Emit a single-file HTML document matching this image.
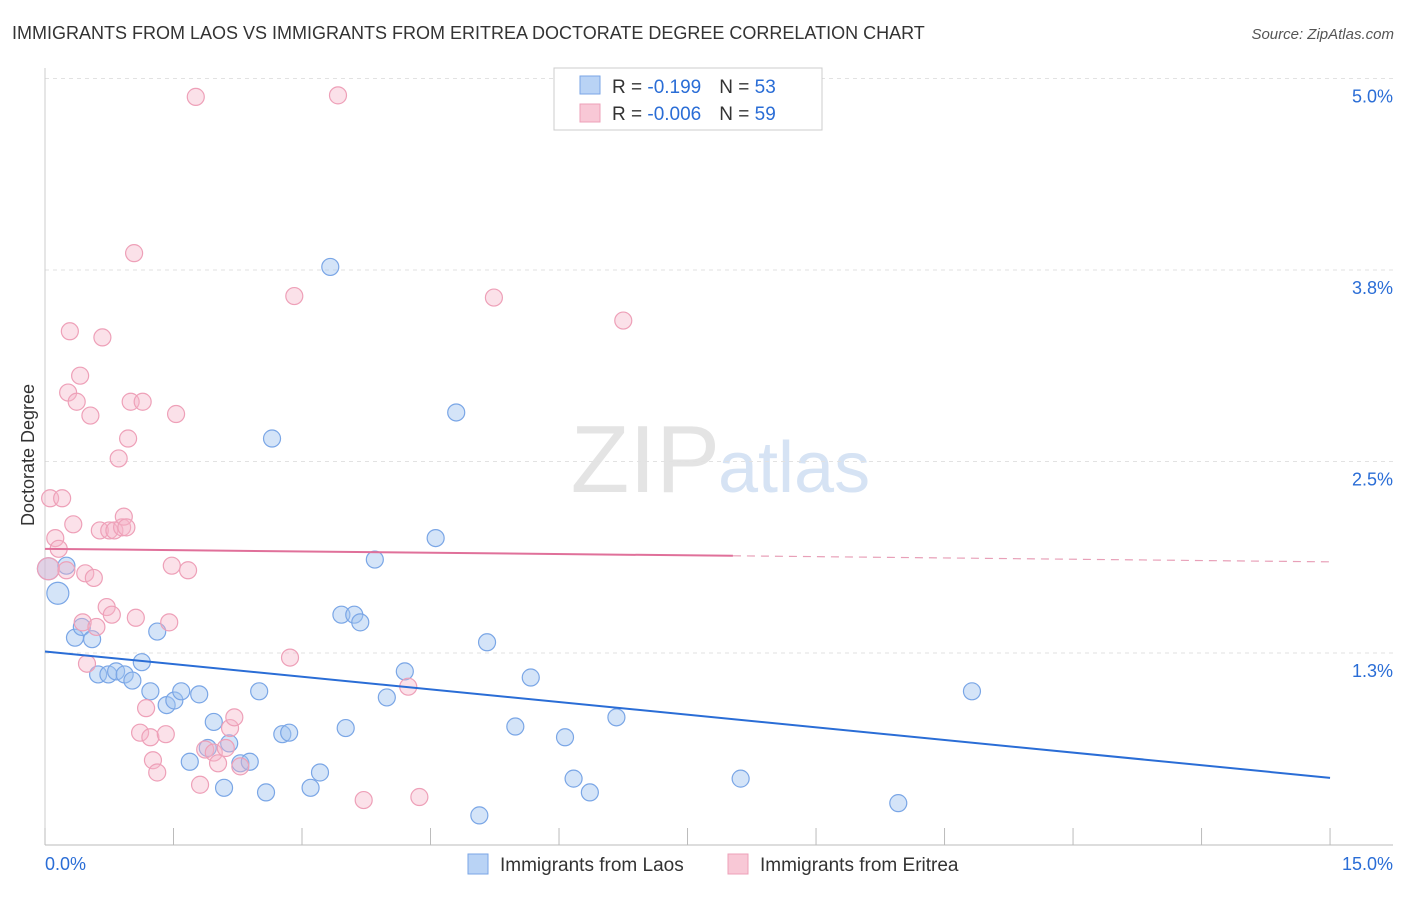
<!DOCTYPE html>
<html><head><meta charset="utf-8"><style>
body{margin:0;background:#fff;font-family:"Liberation Sans",sans-serif;}
svg text{font-family:"Liberation Sans",sans-serif;}
</style></head><body>
<svg id="chart" width="1406" height="892">
<text x="12" y="39" font-size="18" fill="#333">IMMIGRANTS FROM LAOS VS IMMIGRANTS FROM ERITREA DOCTORATE DEGREE CORRELATION CHART</text>
<text x="1394" y="39" font-size="15" fill="#555" font-style="italic" text-anchor="end">Source: ZipAtlas.com</text>
<text x="34" y="455" font-size="18" fill="#333" transform="rotate(-90 34 455)" text-anchor="middle">Doctorate Degree</text>
<text x="720" y="492" font-size="96" fill="#e4e4e4" font-family="Liberation Serif" text-anchor="end">ZIP</text>
<text x="718" y="492" font-size="72" fill="#d6e3f4">atlas</text>
<g id="grid"></g><g id="pts"></g><g id="lines"></g>
<g>
<rect x="554" y="68" width="268" height="62" fill="#fff" stroke="#ccc"/>
<rect x="580" y="76" width="20" height="18" fill="#b9d3f5" stroke="#7aa6e6"/>
<rect x="580" y="104" width="20" height="18" fill="#f8c8d6" stroke="#eea0b8"/>
<text x="612" y="93" font-size="19" fill="#333">R = <tspan fill="#2a6dd6"> -0.199</tspan><tspan dx="18">N = </tspan><tspan fill="#2a6dd6">53</tspan></text>
<text x="612" y="120" font-size="19" fill="#333">R = <tspan fill="#2a6dd6">-0.006</tspan><tspan dx="18">N = </tspan><tspan fill="#2a6dd6">59</tspan></text>
</g>
<g>
<rect x="468" y="854" width="20" height="20" fill="#b9d3f5" stroke="#7aa6e6"/>
<text x="500" y="871" font-size="19" fill="#333">Immigrants from Laos</text>
<rect x="728" y="854" width="20" height="20" fill="#f8c8d6" stroke="#eea0b8"/>
<text x="760" y="871" font-size="19" fill="#333">Immigrants from Eritrea</text>
</g>
</svg>
<script>
const yTicks=[5.0,3.75,2.5,1.25];
const yTickLabels=["5.0%","3.8%","2.5%","1.3%"];
const xTicks=[0,1.5,3,4.5,6,7.5,9,10.5,12,13.5,15];
const laosX=[0.04,0.15,0.25,0.35,0.43,0.55,0.62,0.74,0.83,0.93,1.02,1.13,1.23,1.31,1.42,1.51,1.59,1.80,1.97,1.69,1.90,2.09,2.15,2.28,2.39,2.50,2.58,2.65,2.77,2.85,3.10,3.21,3.33,3.46,3.51,3.61,3.68,3.85,3.99,4.20,4.56,4.80,5.07,5.16,5.49,5.67,6.07,6.17,6.36,6.67,8.12,9.96,10.82];
const laosY=[1.80,1.64,1.82,1.35,1.42,1.34,1.11,1.11,1.13,1.11,1.07,1.19,1.00,1.39,0.91,0.94,1.00,0.98,0.80,0.54,0.63,0.37,0.66,0.53,0.54,1.00,0.34,2.65,0.72,0.73,0.37,0.47,3.77,1.50,0.76,1.50,1.45,1.86,0.96,1.13,2.00,2.82,0.19,1.32,0.77,1.09,0.70,0.43,0.34,0.83,0.43,0.27,1.00];
const eriX=[0.04,0.06,0.12,0.16,0.20,0.25,0.29,0.33,0.27,0.37,0.41,0.44,0.49,0.53,0.47,0.57,0.60,0.64,0.67,0.72,0.75,0.78,0.81,0.86,0.90,0.92,0.95,0.97,1.00,1.04,1.06,1.11,1.14,1.18,1.23,1.26,1.31,1.41,1.45,1.48,1.53,1.67,1.76,1.81,1.87,1.97,2.02,2.11,2.16,2.21,2.28,2.86,2.91,3.42,3.72,4.24,4.37,5.24,6.75];
const eriY=[1.80,2.26,2.00,1.93,2.26,1.79,3.35,2.09,2.95,2.89,3.06,1.45,1.18,2.80,1.77,1.74,1.42,2.05,3.31,1.55,2.05,1.50,2.05,2.52,2.07,2.14,2.07,2.65,2.89,3.86,1.48,0.73,2.89,0.89,0.70,0.55,0.47,0.72,1.45,1.82,2.81,1.79,4.88,0.39,0.62,0.60,0.53,0.63,0.76,0.83,0.51,1.22,3.58,4.89,0.29,1.03,0.31,3.57,3.42];
const laosTrend=[1.26,0.435];
const eriTrend=[1.93,1.845];
const NS="http://www.w3.org/2000/svg";
const X=v=>45+v*85.67, Y=v=>844.5-v*153.2;
function mk(t,a,p){const e=document.createElementNS(NS,t);for(const k in a)e.setAttribute(k,a[k]);p.appendChild(e);return e;}
const g=document.getElementById('grid');
yTicks.forEach((t,i)=>{
 const l=mk('line',{x1:45,x2:1393,y1:Y(t),y2:Y(t),stroke:'#e2e2e2','stroke-dasharray':'4,4'},g);
 
 
 const tx=mk('text',{x:1393,y:Y(t)+24,'font-size':18,fill:'#2a6dd6','text-anchor':'end'},g);
 tx.textContent=yTickLabels[i];
 
 
});
const ax=mk('line',{x1:45,x2:1393,y1:845,y2:845,stroke:'#bbb'},g);


const ay=mk('line',{x1:45,x2:45,y1:68,y2:845,stroke:'#ccc'},g);


xTicks.forEach(t=>{
 const l=mk('line',{x1:X(t),x2:X(t),y1:828,y2:845,stroke:'#bbb'},g);
 
 
});
[[0,"0.0%",'start',45],[15,"15.0%",'end',1393]].forEach(d=>{
 const tx=mk('text',{x:d[3],y:870,'font-size':18,fill:'#2a6dd6','text-anchor':d[2]},g);
 tx.textContent=d[1];
 
 
});
const p=document.getElementById('pts');
laosX.forEach((x,i)=>{
 const c=mk('circle',{cx:X(x),cy:Y(laosY[i]),r:i<2?11:8.5,fill:'rgba(160,196,240,0.45)',stroke:'#7aa6e6','stroke-width':1.2},p);
 
 
});
eriX.forEach((x,i)=>{
 const c=mk('circle',{cx:X(x),cy:Y(eriY[i]),r:i<1?11:8.5,fill:'rgba(245,180,200,0.4)',stroke:'#eea0b8','stroke-width':1.2},p);
 
 
});
const L=document.getElementById('lines');
const bl=mk('line',{x1:X(0),y1:Y(laosTrend[0]),x2:X(15),y2:Y(laosTrend[1]),stroke:'#2a6dd6','stroke-width':2},L);


const f=v=>eriTrend[0]+(eriTrend[1]-eriTrend[0])*v/15;
const pl=mk('line',{x1:X(0),y1:Y(eriTrend[0]),x2:X(8.03),y2:Y(f(8.03)),stroke:'#e0709a','stroke-width':2},L);


const pd=mk('line',{x1:X(8.03),y1:Y(f(8.03)),x2:X(15),y2:Y(eriTrend[1]),stroke:'#e8a0b8','stroke-width':1.2,'stroke-dasharray':'8,6'},L);


</script>
</body></html>
